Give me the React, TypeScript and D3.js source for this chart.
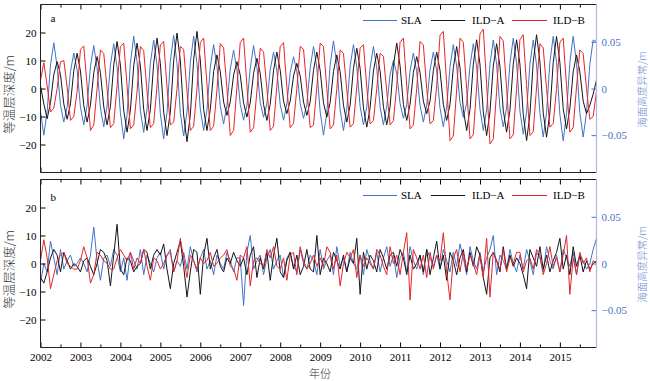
import React, { useEffect, useRef } from 'react';
import * as d3 from 'd3';

const YEARS = [2002, 2003, 2004, 2005, 2006, 2007, 2008, 2009, 2010, 2011, 2012, 2013, 2014, 2015];
const SERIES_NAMES = ['SLA', 'ILD\u2212A', 'ILD\u2212B'];
const PANEL_LABELS = ['a', 'b'];
const LEFT_TICKS = [-20, -10, 0, 10, 20];
const RIGHT_TICKS = [-0.05, 0, 0.05];
const LEFT_TITLE = '等温层深度/m';
const RIGHT_TITLE = '海面高度异常/m';
const X_TITLE = '年份';

// Panel a: SLA (m), monthly Jan 2002 - Dec 2015
const SLA_A = [
  -0.025, -0.050, -0.024, 0.025, 0.049, 0.023, -0.018, -0.036, -0.020, 0.018, 0.038, 0.020,
  -0.020, -0.039, -0.018, 0.024, 0.046, 0.022, -0.021, -0.041, -0.019, 0.025, 0.048, 0.023,
  -0.026, -0.054, -0.028, 0.027, 0.056, 0.029, -0.024, -0.047, -0.022, 0.027, 0.052, 0.025,
  -0.027, -0.054, -0.026, 0.029, 0.057, 0.027, -0.026, -0.051, -0.025, 0.028, 0.056, 0.027,
  -0.022, -0.045, -0.023, 0.023, 0.047, 0.024, -0.019, -0.038, -0.018, 0.021, 0.041, 0.020,
  -0.017, -0.034, -0.018, 0.022, 0.046, 0.023, -0.015, -0.031, -0.016, 0.020, 0.039, 0.019,
  -0.017, -0.034, -0.016, 0.017, 0.034, 0.018, -0.016, -0.032, -0.017, 0.022, 0.045, 0.022,
  -0.025, -0.050, -0.026, 0.025, 0.051, 0.026, -0.023, -0.045, -0.022, 0.024, 0.047, 0.023,
  -0.019, -0.039, -0.020, 0.022, 0.045, 0.022, -0.020, -0.039, -0.019, 0.015, 0.030, 0.016,
  -0.016, -0.032, -0.017, 0.019, 0.038, 0.018, -0.018, -0.036, -0.018, 0.020, 0.039, 0.019,
  -0.021, -0.041, -0.020, 0.023, 0.047, 0.024, -0.015, -0.031, -0.016, 0.024, 0.048, 0.023,
  -0.022, -0.045, -0.023, 0.026, 0.052, 0.026, -0.021, -0.041, -0.021, 0.027, 0.054, 0.027,
  -0.024, -0.049, -0.025, 0.026, 0.052, 0.025, -0.026, -0.052, -0.026, 0.028, 0.056, 0.028,
  -0.028, -0.056, -0.027, 0.028, 0.056, 0.027, -0.026, -0.052, -0.026, 0.026, 0.052, 0.050,
];

// Panel a: ILD-A (m)
const ILDA_A = [
  1, -5.5, -10.8, -5, 5, 9.6, 5, -5.5, -11, -5.5, 6.3, 12.6,
  6.3, -6, -12, -6, 5.7, 11.4, 5.7, -6.5, -13, -6.5, 8.4, 16.8,
  8.4, -7.8, -15.6, -7.8, 8.1, 16.2, 8.1, -7.5, -15, -7.5, 9, 18,
  9, -8.4, -16.8, -8.4, 9.9, 19.8, 9.9, -9.5, -19, -9.5, 10.2, 20.4,
  10.2, -7.5, -15, -7.5, 6, 12, 6, -4.8, -9.6, -4.8, 4.8, 9.6,
  4.8, -5.1, -10.2, -5.1, 5.4, 10.8, 5.4, -5.7, -11.4, -5.7, 6.5, 13,
  6.5, -4.5, -9, -4.5, 4.5, 9, 4.5, -4.8, -9.6, -4.8, 6.5, 13,
  6.5, -5.1, -10.2, -5.1, 6, 12, 6, -6, -12, -6, 7.2, 14.4,
  7.2, -6.9, -13.8, -6.9, 6.3, 12.6, 6.3, -6.5, -13, -6.5, 8.1, 16.2,
  8.1, -5.7, -11.4, -5.7, 5.7, 11.4, 5.7, -4.5, -9, -4.5, 6.5, 13,
  6.5, -5.7, -11.4, -5.7, 7.5, 15, 7.5, -7.5, -15, -7.5, 8.7, 17.4,
  8.7, -8.4, -16.8, -8.4, 8, 16, 8, -7.8, -15.6, -7.8, 8.7, 17.4,
  8.7, -9.3, -18.6, -9.3, 9.6, 19.2, 9.6, -8.7, -17.4, -8.7, 9.3, 18.6,
  9.3, -7.2, -14.4, -7.2, 6, 12, 6, -4.5, -9, -6, -2, 3,
];

// Panel a: ILD-B (m)
const ILDB_A = [
  3, 9.2, 1, -8.4, -7, 0, 9.5, 10, 0.5, -11.4, -10, -1,
  14, 15.2, 1, -15, -13, 0, 13.8, 12.5, 0, -14, -12.5, 1,
  15, 16.2, 1, -14.4, -13, -1, 15, 13.5, -1, -14, -12.5, 1,
  15.5, 16.8, 0.5, -13, -12, 0, 15, 14, -1, -15, -13.5, 0,
  16.5, 18, 1.5, -15, -13.5, -0.5, 16, 14.5, 0, -16.8, -15, 0.5,
  16.5, 18, 1, -15.6, -14, -1, 14.4, 13, 0, -15, -13.5, 1,
  15, 16.4, 0.5, -14, -12.5, 0, 15, 14, 0, -14, -13, 0.5,
  16.2, 15, 0, -14.4, -13, 0, 13.8, 12.5, -0.5, -13.8, -12.5, 0.5,
  14.5, 15.6, 0.5, -12.6, -11.5, 0, 12.6, 11.5, -1, -13, -11.5, 1,
  16.5, 18, 1, -14.4, -13, 0, 16.8, 15.5, 0, -12.6, -11.5, 1,
  19, 20.4, 1.5, -18.6, -17, -0.5, 18, 16.5, 0, -18, -16.5, 0.5,
  19.5, 21.2, 1.5, -19.8, -18, -1, 18.6, 17, 0, -18, -16.5, 0,
  17.5, 19.2, 1, -16.8, -15.5, 0.5, 16, 14.5, 0, -13.8, -12.5, 0,
  16.5, 18, 1, -15.6, -14, 0.5, 13.8, 12.5, 0, -11, -10, -1,
];

// Panel b: SLA residual (m)
const SLA_B = [
  -0.021, 0, -0.009, 0.024, 0.006, -0.012, 0.015, -0.006, 0.003, 0.009, -0.003, 0,
  0.006, 0, -0.009, 0.009, 0.039, 0.003, -0.018, 0.006, 0.009, -0.003, 0.015, 0.009,
  -0.009, 0.006, -0.018, 0.012, 0.003, -0.006, 0.015, -0.012, 0.009, 0, -0.009, 0.006,
  0.012, -0.006, 0.009, 0.015, -0.009, 0.003, -0.003, 0.012, -0.006, 0.018, 0.003, -0.009,
  0.006, 0.015, -0.006, 0.003, -0.012, 0.009, 0, -0.006, 0.012, 0.003, -0.009, 0.006,
  0.006, -0.045, 0.012, 0.030, -0.006, 0.003, 0.009, -0.012, 0.006, 0.015, -0.006, 0.003,
  0.009, -0.015, 0.006, 0.012, -0.003, -0.009, 0.015, 0, -0.006, 0.009, 0.003, -0.012,
  0.015, -0.006, 0.003, 0.009, -0.012, 0.018, -0.003, 0.006, -0.009, 0.012, 0, -0.006,
  0.009, -0.012, 0.015, 0.003, -0.006, 0.012, -0.009, 0.006, 0.018, -0.003, 0.009, -0.015,
  0.006, 0.012, -0.009, 0.018, 0.003, -0.006, 0.009, -0.012, 0.015, 0.006, -0.003, 0.009,
  -0.006, 0.015, 0.003, -0.009, 0.012, -0.003, 0.021, 0.006, -0.012, 0.018, 0.003, -0.006,
  0.012, -0.009, 0.006, 0.015, 0.030, -0.012, 0.009, 0.003, -0.006, 0.015, 0, -0.009,
  0.009, -0.006, 0.015, 0.003, -0.012, 0.012, 0.006, -0.009, 0.018, 0.003, -0.006, 0.009,
  -0.009, 0.015, 0.006, -0.003, 0.012, -0.012, 0.009, 0.003, -0.006, 0, 0.015, 0.027,
];

// Panel b: ILD-A residual (m)
const ILDA_B = [
  -5, -7, -3, 2, 5, 3, -3, 4, 1, -2, 0, -1,
  -3, 1, 2, -1, -4, 0, 5, 4, 1, -8, 3, 14,
  -2, -4, 2, 1, -3, -1, 0, 5, 4, -2, 3, 5,
  3, 7, -2, -9, 0, 4, 8, -1, -12, -3, 5, 4,
  -11, 3, 9, -2, 2, 5, -1, -3, 2, 0, 4, 1,
  -1, 2, -4, 3, 6, -5, 2, -2, 4, -6, 3, 9,
  -3, -5, 1, 4, -2, 3, -4, -1, 5, -2, -3, 10,
  -4, 2, 0, -3, 4, 1, -2, 3, -3, 2, 0, 9,
  -11, 4, -2, 3, 1, -3, 5, 2, -2, 3, 4, -1,
  5, 2, -4, 3, -2, 0, 3, -3, 5, -4, 2, 8,
  -2, 3, -6, 4, 1, -4, 2, 5, -3, 4, -1, 6,
  3, -5, -11, 2, 4, 1, -3, 6, -2, 3, -1, 2,
  0, -4, -9, 5, 2, -1, 6, -2, 3, -3, 1, 4,
  9, -2, 3, -4, 6, -1, 3, -3, 1, -2, 0, 1,
];

// Panel b: ILD-B residual (m)
const ILDB_B = [
  1, 8.5, 2, -9, -4, 1, 3, 4, 0, -1, -2, -2,
  1, 6, 2, -7, -4, 4, 3, 1, 0, -2, -2, 2,
  5, 3, 1, 4, -2, 2, 0, 5, -1, -6, 2, 1,
  -2, 0, 3, 4, -3, 1, 9, 2, -5, 3, 1, -2,
  2, 0, 1, 4, -1, 0, 2, 3, 5, -1, -2, -6,
  3, 2, 6, -8, 1, 2, 0, -1, 5, 2, 6, -1,
  -2, 2, -6, 3, 4, -4, 6, 1, -2, 0, 3, -1,
  2, -1, 6, 4, -2, 3, -8, 0, 4, 2, 5, -5,
  3, -1, 2, 0, -2, 5, 3, -1, -4, 6, 0, 3,
  -4, 4, 11, -13, 5, 2, -2, 3, -5, 4, -2, 3,
  1, 11, -3, -13, 2, 5, -3, 4, -2, 3, 0, -4,
  3, -5, 9, -12, 4, 1, -2, 5, -3, 2, 0, 4,
  4, -3, 1, 2, -2, 5, 3, -4, 0, 6, -1, 2,
  -3, 3, 10, -11, 2, -4, 4, 0, 2, -3, 1, 0,
];

const BLUE = '#4472c8';
const RED = '#e4262c';
const BLACK = '#151515';
const AXIS_BLUE = '#4a6fc4';
const SPINE_BLUE = '#a9b9e2';
const SERIF = "'Liberation Serif', 'Times New Roman', serif";
const CJK = "'Noto Sans CJK SC', sans-serif";

export default function App() {
  const ref = useRef<SVGSVGElement>(null);

  useEffect(() => {
    const svg = d3.select(ref.current);
    svg.selectAll('*').remove();
    const X0 = 40.5, X1 = 596.5;
    const n = SLA_A.length;
    const x = d3.scaleLinear().domain([0, n - 1]).range([X0, X1]);
    const major = YEARS.map((_, j) => j * 12);
    const minor = YEARS.map((_, j) => j * 12 + 6);

    const panels = [
      { top: 4.5, bottom: 172.5, sla: SLA_A, a: ILDA_A, b: ILDB_A, labelDy: 17.5 },
      { top: 179.5, bottom: 347.5, sla: SLA_B, a: ILDA_B, b: ILDB_B, labelDy: 21.5 },
    ];

    panels.forEach((p, pi) => {
      const yL = d3.scaleLinear().domain([-30, 30]).range([p.bottom, p.top]);
      const yR = d3.scaleLinear().domain([-0.09, 0.09]).range([p.bottom, p.top]);
      const g = svg.append('g');

      const lineL = d3.line<number>().x((_, i) => x(i)).y((d) => yL(d));
      const lineR = d3.line<number>().x((_, i) => x(i)).y((d) => yR(d));

      g.append('path').attr('d', lineR(p.sla) as string).attr('fill', 'none')
        .attr('stroke', BLUE).attr('stroke-width', 1).attr('stroke-linejoin', 'round');
      g.append('path').attr('d', lineL(p.a) as string).attr('fill', 'none')
        .attr('stroke', BLACK).attr('stroke-width', 1).attr('stroke-linejoin', 'round');
      g.append('path').attr('d', lineL(p.b) as string).attr('fill', 'none')
        .attr('stroke', RED).attr('stroke-width', 1).attr('stroke-linejoin', 'round');

      const clean = (sel: any) => sel.select('.domain').remove();

      g.append('g').attr('transform', `translate(0,${p.top})`)
        .call(d3.axisTop(x).tickValues(major).tickSize(-5).tickFormat(() => ''))
        .call(clean);
      g.append('g').attr('transform', `translate(0,${p.top})`)
        .call(d3.axisTop(x).tickValues(minor).tickSize(-3).tickFormat(() => ''))
        .call(clean);
      g.append('g').attr('transform', `translate(0,${p.bottom})`)
        .call(d3.axisBottom(x).tickValues(major).tickSize(-5).tickPadding(6)
          .tickFormat((d, j) => (pi === 1 ? String(YEARS[j]) : '')))
        .call(clean);
      g.append('g').attr('transform', `translate(0,${p.bottom})`)
        .call(d3.axisBottom(x).tickValues(minor).tickSize(-3).tickFormat(() => ''))
        .call(clean);
      g.append('g').attr('transform', `translate(${X0},0)`)
        .call(d3.axisLeft(yL).tickValues(LEFT_TICKS).tickSize(-5).tickPadding(4)
          .tickFormat(d3.format('d') as any))
        .call(clean);
      const ra = g.append('g').attr('transform', `translate(${X1},0)`)
        .call(d3.axisRight(yR).tickValues(RIGHT_TICKS).tickSize(-5).tickPadding(5)
          .tickFormat((d: any) => (d === 0 ? '0' : d3.format('.2f')(d))))
        .call(clean);
      ra.selectAll('line').attr('stroke', AXIS_BLUE);
      ra.selectAll('text').attr('fill', AXIS_BLUE);

      g.selectAll('.tick text').attr('font-family', SERIF).attr('font-size', 11);
      g.selectAll('.tick line').attr('stroke-width', 1);

      g.append('path')
        .attr('d', `M${X1},${p.top}H${X0}V${p.bottom}H${X1}`)
        .attr('fill', 'none').attr('stroke', '#222').attr('stroke-width', 1);
      g.append('line').attr('x1', X1).attr('x2', X1).attr('y1', p.top).attr('y2', p.bottom)
        .attr('stroke', SPINE_BLUE).attr('stroke-width', 1.2);

      g.append('text').attr('x', 50.5).attr('y', p.top + p.labelDy)
        .attr('font-family', SERIF).attr('font-size', 11).text(PANEL_LABELS[pi]);

      const ly = p.top + 16;
      const legend = [
        { x1: 363, x2: 397, tx: 401, c: BLUE },
        { x1: 431, x2: 465, tx: 472, c: BLACK },
        { x1: 512, x2: 547, tx: 553, c: RED },
      ];
      legend.forEach((l, li) => {
        g.append('line').attr('x1', l.x1).attr('x2', l.x2).attr('y1', ly).attr('y2', ly)
          .attr('stroke', l.c).attr('stroke-width', 1);
        g.append('text').attr('x', l.tx).attr('y', ly).attr('dy', '0.35em')
          .attr('font-family', SERIF).attr('font-size', 11).text(SERIES_NAMES[li]);
      });

      const cyL = (p.top + p.bottom) / 2 + 6;
      g.append('text').attr('transform', `translate(8,${cyL}) rotate(-90)`)
        .attr('text-anchor', 'middle').attr('dominant-baseline', 'central')
        .attr('font-family', CJK).attr('font-weight', 300).attr('font-size', 12.5)
        .attr('fill', '#333').text(LEFT_TITLE);
      const cyR = (p.top + p.bottom) / 2 + 1;
      g.append('text').attr('transform', `translate(641,${cyR}) rotate(-90)`)
        .attr('text-anchor', 'middle').attr('dominant-baseline', 'central')
        .attr('font-family', CJK).attr('font-weight', 300).attr('font-size', 10.5)
        .attr('fill', '#6a8bd0').text(RIGHT_TITLE);
    });

    svg.append('text').attr('x', 320).attr('y', 373).attr('text-anchor', 'middle')
      .attr('dominant-baseline', 'central').attr('font-family', CJK).attr('font-weight', 300)
      .attr('font-size', 11).attr('fill', '#333').text(X_TITLE);
  }, []);

  return (
    <svg
      ref={ref}
      width={650}
      height={381}
      style={{ position: 'absolute', left: 0, top: 0, background: '#fff' }}
    />
  );
}
